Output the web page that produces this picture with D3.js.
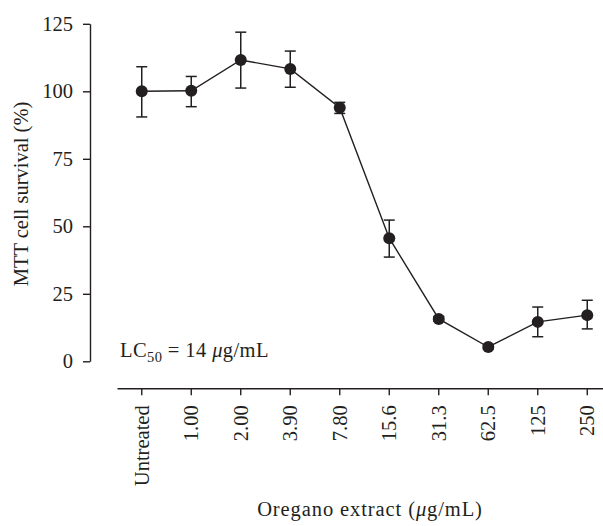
<!DOCTYPE html>
<html>
<head>
<meta charset="utf-8">
<script src="https://cdn.jsdelivr.net/npm/d3@7"></script>
<style>
  body { margin: 0; background: #fff; }
  svg { display: block; }
  text { font-family: "Liberation Serif", "Times New Roman", serif; fill: #231f20; }
</style>
</head>
<body>
<script>
// concentrations along the x axis
var concentrations = ["Untreated", "1.00", "2.00", "3.90", "7.80", "15.6", "31.3", "62.5", "125", "250"];
// mean survival (%) and error bar ends
var survival = [100, 100.2, 111.6, 108.3, 93.9, 45.6, 15.7, 5.3, 14.6, 17.1];
var errTop   = [109.1, 105.5, 121.9, 114.9, 95.9, 52.3, 16.6, 6.2, 20.1, 22.6];
var errBot   = [90.5, 94.3, 101.2, 101.5, 91.8, 38.6, 14.8, 4.4, 9.1, 12.0];
var yTicks = [0, 25, 50, 75, 100, 125];

var ink = "#231f20";
var fs = "20.5px";
var width = 603, height = 526;

var svg = d3.select("body").append("svg")
  .attr("width", width)
  .attr("height", height);

// scales
var x = d3.scaleBand()
  .domain(concentrations)
  .range([117, 612])
  .padding(0);

var y = d3.scaleLinear()
  .domain([0, 125])
  .range([361.3, 23.8]);

var cx = function(i) { return x(concentrations[i]) + x.bandwidth() / 2; };

// y axis
var yAxis = svg.append("g")
  .attr("transform", "translate(90,0)")
  .call(d3.axisLeft(y).tickValues(yTicks).tickSize(7).tickSizeOuter(0).tickPadding(10));
yAxis.select(".domain").attr("stroke", ink).attr("stroke-width", 1.4);
yAxis.selectAll(".tick line").attr("stroke", ink).attr("stroke-width", 1.4);
yAxis.selectAll(".tick text")
  .attr("font-family", "Liberation Serif, serif")
  .attr("font-size", fs)
  .attr("fill", ink);

// x axis
var xAxis = svg.append("g")
  .attr("transform", "translate(0,388.3)")
  .call(d3.axisBottom(x).tickSize(7).tickSizeOuter(0));
xAxis.select(".domain").attr("stroke", ink).attr("stroke-width", 1.4);
xAxis.selectAll(".tick line").attr("stroke", ink).attr("stroke-width", 1.4);
xAxis.selectAll(".tick text")
  .attr("font-family", "Liberation Serif, serif")
  .attr("font-size", fs)
  .attr("fill", ink)
  .attr("text-anchor", "end")
  .attr("transform", "rotate(-90)")
  .attr("x", -17)
  .attr("y", 0)
  .attr("dy", "0.33em");

// axis titles
svg.append("text")
  .attr("transform", "translate(28,194) rotate(-90)")
  .attr("text-anchor", "middle")
  .attr("font-size", fs)
  .text("MTT cell survival (%)");

var xt = svg.append("text")
  .attr("x", 370)
  .attr("y", 516)
  .attr("text-anchor", "middle")
  .attr("letter-spacing", "0.9px")
  .attr("font-size", fs);
xt.append("tspan").text("Oregano extract (");
xt.append("tspan").attr("font-style", "italic").text("\u03bc");
xt.append("tspan").text("g/mL)");

// LC50 note
var lc = svg.append("text")
  .attr("x", 120)
  .attr("y", 357)
  .attr("letter-spacing", "0.4px")
  .attr("font-size", fs);
lc.append("tspan").text("LC");
lc.append("tspan").attr("font-size", "14.5px").attr("dy", 5).text("50");
lc.append("tspan").attr("dy", -5).text(" = 14 ");
lc.append("tspan").attr("font-style", "italic").text("\u03bc");
lc.append("tspan").text("g/mL");

// connecting line
var line = d3.line()
  .x(function(d, i) { return cx(i); })
  .y(function(d) { return y(d); });

svg.append("path")
  .datum(survival)
  .attr("d", line)
  .attr("fill", "none")
  .attr("stroke", ink)
  .attr("stroke-width", 1.4);

// error bars
var eb = svg.selectAll("g.err")
  .data(survival)
  .enter().append("g")
  .attr("class", "err")
  .attr("stroke", ink)
  .attr("stroke-width", 1.5);

eb.append("line")
  .attr("x1", function(d, i) { return cx(i); })
  .attr("x2", function(d, i) { return cx(i); })
  .attr("y1", function(d, i) { return y(errTop[i]); })
  .attr("y2", function(d, i) { return y(errBot[i]); });
eb.append("line")
  .attr("x1", function(d, i) { return cx(i) - 5.5; })
  .attr("x2", function(d, i) { return cx(i) + 5.5; })
  .attr("y1", function(d, i) { return y(errTop[i]); })
  .attr("y2", function(d, i) { return y(errTop[i]); });
eb.append("line")
  .attr("x1", function(d, i) { return cx(i) - 5.5; })
  .attr("x2", function(d, i) { return cx(i) + 5.5; })
  .attr("y1", function(d, i) { return y(errBot[i]); })
  .attr("y2", function(d, i) { return y(errBot[i]); });

// markers
svg.selectAll("circle.pt")
  .data(survival)
  .enter().append("circle")
  .attr("class", "pt")
  .attr("cx", function(d, i) { return cx(i); })
  .attr("cy", function(d) { return y(d); })
  .attr("r", 6)
  .attr("fill", ink);
</script>
</body>
</html>
